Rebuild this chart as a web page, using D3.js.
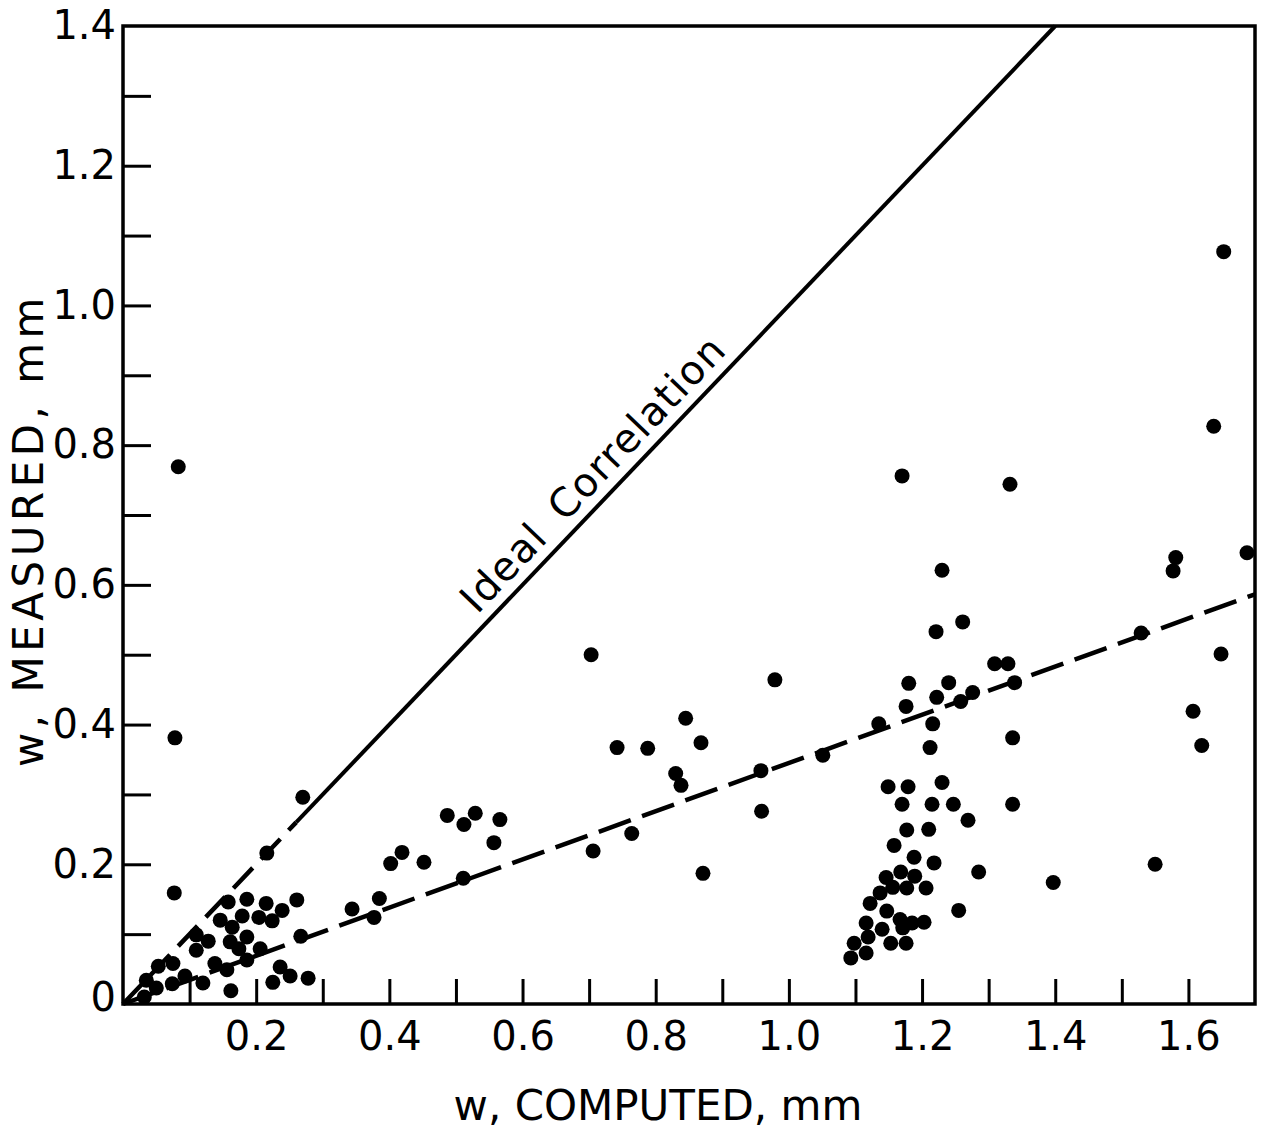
<!DOCTYPE html>
<html>
<head>
<meta charset="utf-8">
<script src="https://cdn.jsdelivr.net/npm/d3@7"></script>
<style>
  body { margin: 0; background: #fff; }
  text { font-family: "DejaVu Sans", sans-serif; fill: #000; }
</style>
</head>
<body>
<script>
"use strict";

/* data: w computed vs w measured, mm */
var computed = [
	// small values near the origin
	0.216, 0.077, 0.158, 0.186, 0.215, 0.261, 0.239, 0.146, 0.179, 0.204,
	0.224, 0.164, 0.110, 0.128, 0.161, 0.186, 0.267, 0.110, 0.174, 0.206,
	0.186, 0.053, 0.075, 0.138, 0.093, 0.156, 0.236, 0.251, 0.278, 0.225,
	0.035, 0.050, 0.074, 0.120, 0.162, 0.032,
	0.083, 0.078, 0.270,
	// middle
	0.344, 0.377, 0.385, 0.402, 0.419, 0.452, 0.487, 0.512, 0.529, 0.511,
	0.557, 0.566, 0.703, 0.706, 0.742, 0.764, 0.788, 0.830, 0.838, 0.845,
	0.868, 0.871, 0.958, 0.959, 0.979, 1.051,
	// cluster around 1.2
	1.309, 1.329, 1.180, 1.240, 1.222, 1.176, 1.276, 1.258, 1.339, 1.135,
	1.216, 1.212, 1.336, 1.149, 1.179, 1.230, 1.170, 1.215, 1.247, 1.336,
	1.269, 1.177, 1.210, 1.158, 1.188, 1.218, 1.285, 1.397, 1.146, 1.168,
	1.189, 1.156, 1.177, 1.206, 1.137, 1.122, 1.147, 1.255, 1.116, 1.167,
	1.185, 1.203, 1.171, 1.140, 1.119, 1.098, 1.153, 1.176, 1.116, 1.093,
	1.170, 1.230, 1.221, 1.261, 1.332,
	// right side
	1.653, 1.638, 1.581, 1.577, 1.688, 1.529, 1.649, 1.607, 1.620, 1.550
];
var measured = [
	0.216, 0.159, 0.146, 0.150, 0.144, 0.149, 0.134, 0.120, 0.126, 0.124,
	0.119, 0.110, 0.099, 0.090, 0.089, 0.096, 0.097, 0.077, 0.079, 0.079,
	0.063, 0.054, 0.058, 0.058, 0.040, 0.049, 0.053, 0.040, 0.037, 0.031,
	0.034, 0.023, 0.029, 0.030, 0.019, 0.010,
	0.769, 0.381, 0.296,
	0.136, 0.124, 0.151, 0.201, 0.217, 0.203, 0.270, 0.257, 0.273, 0.180,
	0.231, 0.264, 0.500, 0.219, 0.367, 0.244, 0.366, 0.330, 0.313, 0.409,
	0.374, 0.187, 0.334, 0.276, 0.464, 0.356,
	0.487, 0.487, 0.459, 0.460, 0.439, 0.426, 0.446, 0.433, 0.460, 0.401,
	0.401, 0.367, 0.381, 0.311, 0.311, 0.317, 0.286, 0.286, 0.286, 0.286,
	0.263, 0.249, 0.250, 0.227, 0.210, 0.202, 0.189, 0.174, 0.181, 0.189,
	0.183, 0.167, 0.166, 0.166, 0.159, 0.144, 0.133, 0.134, 0.116, 0.121,
	0.116, 0.117, 0.109, 0.107, 0.096, 0.087, 0.087, 0.087, 0.073, 0.066,
	0.756, 0.621, 0.533, 0.547, 0.744,
	1.077, 0.827, 0.639, 0.620, 0.646, 0.531, 0.501, 0.419, 0.370, 0.200
];

var xTicks = [0.1, 0.2, 0.3, 0.4, 0.5, 0.6, 0.7, 0.8, 0.9, 1.0, 1.1, 1.2, 1.3, 1.4, 1.5, 1.6];
var yTicks = [0, 0.1, 0.2, 0.3, 0.4, 0.5, 0.6, 0.7, 0.8, 0.9, 1.0, 1.1, 1.2, 1.3, 1.4];

var idealEnd = 1.4;		// y = x up to the top of the frame
var idealDashTo = 0.26;	// dashed part near the origin
var fitSlope = 0.345;	// dashed fit line through origin

var xLabel = "w, COMPUTED, mm";
var yLabel = "w, MEASURED, mm";
var idealLabel = "Ideal Correlation";

function draw() {
	var width = 1268, height = 1133;
	var left = 123, right = 1255, top = 26, bottom = 1004;

	var svg = d3.select("body").append("svg")
		.attr("width", width)
		.attr("height", height);

	var x = d3.scaleLinear().domain([0, 1.7]).range([left, right]);
	var y = d3.scaleLinear().domain([0, 1.4]).range([bottom, top]);

	// label only every second tick
	function fmt(d) {
		if (Math.round(d * 10) % 2 !== 0) return "";
		if (d === 0) return "0";
		return d.toFixed(1);
	}

	var xAxis = svg.append("g")
		.attr("transform", "translate(0," + bottom + ")")
		.call(d3.axisBottom(x).tickValues(xTicks).tickSize(-25).tickPadding(18).tickFormat(fmt));
	var yAxis = svg.append("g")
		.attr("transform", "translate(" + left + ",0)")
		.call(d3.axisLeft(y).tickValues(yTicks).tickSize(-28).tickPadding(7).tickFormat(fmt));

	[xAxis, yAxis].forEach(function(ax) {
		ax.select(".domain").remove();
		ax.selectAll(".tick line").attr("stroke", "#000").attr("stroke-width", 3);
		ax.selectAll(".tick text")
			.style("font-family", "'DejaVu Sans', sans-serif")
			.style("font-size", "40px")
			.attr("fill", "#000");
	});
	yAxis.selectAll(".tick line").filter(function(d) { return d === 0 || d === 1.4; }).remove();
	// the zero label sits a little above the axis
	yAxis.selectAll(".tick text").filter(function(d) { return d === 0; }).attr("y", -6);

	// frame
	svg.append("rect")
		.attr("x", left)
		.attr("y", top)
		.attr("width", right - left)
		.attr("height", bottom - top)
		.attr("fill", "none")
		.attr("stroke", "#000")
		.attr("stroke-width", 3.5);

	// ideal correlation: dashed near origin, solid after
	svg.append("line")
		.attr("x1", x(0)).attr("y1", y(0))
		.attr("x2", x(idealDashTo)).attr("y2", y(idealDashTo))
		.attr("stroke", "#000").attr("stroke-width", 4.5)
		.attr("stroke-dasharray", "28,12");
	svg.append("line")
		.attr("x1", x(idealDashTo)).attr("y1", y(idealDashTo))
		.attr("x2", x(idealEnd)).attr("y2", y(idealEnd))
		.attr("stroke", "#000").attr("stroke-width", 4);

	// fitted line
	svg.append("line")
		.attr("x1", x(0)).attr("y1", y(0))
		.attr("x2", x(1.7)).attr("y2", y(1.7 * fitSlope))
		.attr("stroke", "#000").attr("stroke-width", 4.5)
		.attr("stroke-dasharray", "34,12");

	// points
	svg.append("g").selectAll("circle")
		.data(computed.map(function(c, i) { return [c, measured[i]]; }))
		.enter().append("circle")
		.attr("cx", function(d) { return x(d[0]); })
		.attr("cy", function(d) { return y(d[1]); })
		.attr("r", 7.5)
		.attr("fill", "#000");

	// label along the ideal line
	var angle = Math.atan2(y(1) - y(0), x(1) - x(0)) * 180 / Math.PI;
	svg.append("text")
		.attr("transform", "translate(" + x(0.545) + "," + y(0.545) + ") rotate(" + angle + ")")
		.attr("y", -12)
		.style("font-size", "40px")
		.style("letter-spacing", "1.5px")
		.style("word-spacing", "8px")
		.text(idealLabel);

	// axis titles
	svg.append("text")
		.attr("x", 658)
		.attr("y", 1120)
		.attr("text-anchor", "middle")
		.style("font-size", "42px")
		.text(xLabel);
	svg.append("text")
		.attr("transform", "translate(43,530) rotate(-90)")
		.attr("text-anchor", "middle")
		.style("font-size", "42px")
		.style("letter-spacing", "4.5px")
		.text(yLabel);
}

window.onload = draw;
</script>
</body>
</html>
